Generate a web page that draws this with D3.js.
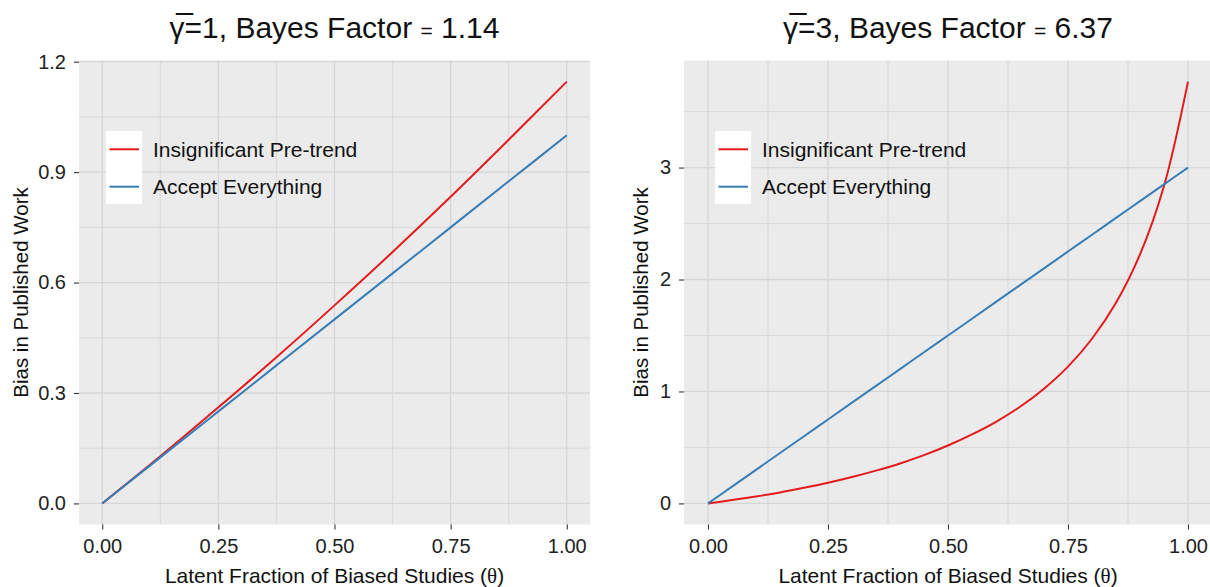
<!DOCTYPE html>
<html>
<head>
<meta charset="utf-8">
<script src="https://cdn.jsdelivr.net/npm/d3@7"></script>
<style>
  body { margin: 0; background: #fff; }
  text { font-family: "Liberation Sans", Arial, sans-serif; }
</style>
</head>
<body>
<div id="chart"></div>
<script>
// ---- data ----
var seriesNames = ["Insignificant Pre-trend", "Accept Everything"];
var seriesColors = ["#E41A1C", "#377EB8"];

// left panel (gamma bar = 1)
var thetaLeft = [0, 0.125, 0.25, 0.375, 0.5, 0.625, 0.75, 0.875, 1];
var redLeft   = [0, 0.128, 0.261, 0.397, 0.538, 0.683, 0.833, 0.988, 1.146];
var blueLeft  = [0, 0.125, 0.25, 0.375, 0.5, 0.625, 0.75, 0.875, 1];

// right panel (gamma bar = 3)
var thetaRight = [0, 0.05, 0.1, 0.15, 0.2, 0.25, 0.3, 0.35, 0.4, 0.45, 0.5,
                  0.55, 0.6, 0.65, 0.7, 0.75, 0.8, 0.85, 0.9, 0.95, 1];
var redRight   = [0, 0.03, 0.062, 0.098, 0.14, 0.185, 0.236, 0.293, 0.357, 0.431, 0.517,
                  0.616, 0.729, 0.863, 1.025, 1.222, 1.471, 1.792, 2.224, 2.836, 3.768];
var blueRight  = [0, 0.15, 0.3, 0.45, 0.6, 0.75, 0.9, 1.05, 1.2, 1.35, 1.5,
                  1.65, 1.8, 1.95, 2.1, 2.25, 2.4, 2.55, 2.7, 2.85, 3];

var gammaBars = ["1", "3"];
var bayesFactors = ["1.14", "6.37"];

var xTicks = [0, 0.25, 0.5, 0.75, 1];
var xMinor = [0.125, 0.375, 0.625, 0.875];
var yTicksLeft = [0, 0.3, 0.6, 0.9, 1.2];
var yMinorLeft = [0.15, 0.45, 0.75, 1.05];
var yTicksRight = [0, 1, 2, 3];
var yMinorRight = [0.5, 1.5, 2.5, 3.5];

var xLabel = "Latent Fraction of Biased Studies (";
var yLabel = "Bias in Published Work";

// ---- svg ----
var svgWidth = 1210, svgHeight = 587;
var svg = d3.select("#chart").append("svg")
    .attr("width", svgWidth)
    .attr("height", svgHeight);

// panel boxes (pixel layout only)
var panels = [
  { left: 79, right: 590, top: 60.5, bottom: 524.5, yTitleX: 21, legendX: 106,
    theta: thetaLeft, red: redLeft, blue: blueLeft,
    yTicks: yTicksLeft, yMinor: yMinorLeft, yFmt: d3.format(".1f") },
  { left: 684, right: 1212, top: 60.5, bottom: 524.5, yTitleX: 641, legendX: 715,
    theta: thetaRight, red: redRight, blue: blueRight,
    yTicks: yTicksRight, yMinor: yMinorRight, yFmt: d3.format("d") }
];

panels.forEach(function(p, i) {
  var g = svg.append("g");

  // ggplot-like 5% expansion
  var yMax = d3.max(p.red.concat(p.blue));
  var xScale = d3.scaleLinear().domain([-0.05, 1.05]).range([p.left, p.right]);
  var yScale = d3.scaleLinear().domain([-0.05 * yMax, 1.05 * yMax]).range([p.bottom, p.top]);

  // background
  g.append("rect")
      .attr("x", p.left).attr("y", p.top)
      .attr("width", p.right - p.left).attr("height", p.bottom - p.top)
      .attr("fill", "#EBEBEB");

  // grid
  g.selectAll(".vminor").data(xMinor).enter().append("line")
      .attr("x1", d => xScale(d)).attr("x2", d => xScale(d))
      .attr("y1", p.top).attr("y2", p.bottom)
      .attr("stroke", "#D9D9D9").attr("stroke-width", 1);
  g.selectAll(".hminor").data(p.yMinor).enter().append("line")
      .attr("x1", p.left).attr("x2", p.right)
      .attr("y1", d => yScale(d)).attr("y2", d => yScale(d))
      .attr("stroke", "#D9D9D9").attr("stroke-width", 1);
  g.selectAll(".vmajor").data(xTicks).enter().append("line")
      .attr("x1", d => xScale(d)).attr("x2", d => xScale(d))
      .attr("y1", p.top).attr("y2", p.bottom)
      .attr("stroke", "#D6D6D6").attr("stroke-width", 1.3);
  g.selectAll(".hmajor").data(p.yTicks).enter().append("line")
      .attr("x1", p.left).attr("x2", p.right)
      .attr("y1", d => yScale(d)).attr("y2", d => yScale(d))
      .attr("stroke", "#D6D6D6").attr("stroke-width", 1.3);

  // lines
  var line = d3.line().curve(d3.curveCatmullRom.alpha(0.5));
  [p.red, p.blue].forEach(function(vals, k) {
    var pts = p.theta.map((t, j) => [xScale(t), yScale(vals[j])]);
    g.append("path")
        .attr("d", line(pts))
        .attr("fill", "none")
        .attr("stroke", seriesColors[k])
        .attr("stroke-width", 2);
  });

  // axes
  var bottomAxis = d3.axisBottom(xScale).tickValues(xTicks)
      .tickFormat(d3.format(".2f")).tickSize(5).tickPadding(9).tickSizeOuter(0);
  var leftAxis = d3.axisLeft(yScale).tickValues(p.yTicks)
      .tickFormat(p.yFmt).tickSize(5).tickPadding(8).tickSizeOuter(0);

  var gx = g.append("g").attr("transform", `translate(0, ${p.bottom})`).call(bottomAxis);
  var gy = g.append("g").attr("transform", `translate(${p.left}, 0)`).call(leftAxis);
  [gx, gy].forEach(function(a) {
    a.select(".domain").remove();
    a.selectAll(".tick line").attr("stroke", "#333").attr("stroke-width", 1.1);
    a.selectAll(".tick text").attr("fill", "#222")
        .style("font-size", "20px").style("font-family", "Liberation Sans, Arial, sans-serif");
  });

  // axis titles
  var xt = g.append("text")
      .attr("x", (p.left + p.right) / 2)
      .attr("y", 583)
      .attr("text-anchor", "middle")
      .style("font-size", "21px").attr("fill", "#111");
  xt.append("tspan").text(xLabel);
  xt.append("tspan").style("font-family", "Liberation Serif, serif").text("\u03B8");
  xt.append("tspan").text(")");

  g.append("text")
      .attr("transform", `translate(${p.yTitleX}, ${(p.top + p.bottom) / 2}) rotate(-90)`)
      .attr("text-anchor", "middle")
      .attr("dy", "0.35em")
      .style("font-size", "20.5px").attr("fill", "#111")
      .text(yLabel);

  // title
  var tt = g.append("text")
      .attr("x", (p.left + p.right) / 2)
      .attr("y", 38)
      .attr("text-anchor", "middle")
      .style("font-size", "30px").attr("fill", "#111");
  tt.append("tspan").text("\u03B3\u0305=" + gammaBars[i] + ", Bayes Factor  ");
  tt.append("tspan").style("font-size", "21px").text("=");
  tt.append("tspan").text(" " + bayesFactors[i]);

  // legend
  var lg = g.append("g").attr("transform", `translate(${p.legendX}, 131)`);
  lg.append("rect").attr("x", 0).attr("y", 0).attr("width", 36).attr("height", 73)
      .attr("fill", "#fff");
  seriesNames.forEach(function(name, k) {
    var ky = 18.3 + k * 37.4;
    lg.append("line").attr("x1", 3.5).attr("x2", 33).attr("y1", ky).attr("y2", ky)
        .attr("stroke", seriesColors[k]).attr("stroke-width", 2);
    lg.append("text").attr("x", 47).attr("y", ky).attr("dy", "0.36em")
        .style("font-size", "21px").attr("fill", "#111")
        .text(name);
  });
});
</script>
</body>
</html>
